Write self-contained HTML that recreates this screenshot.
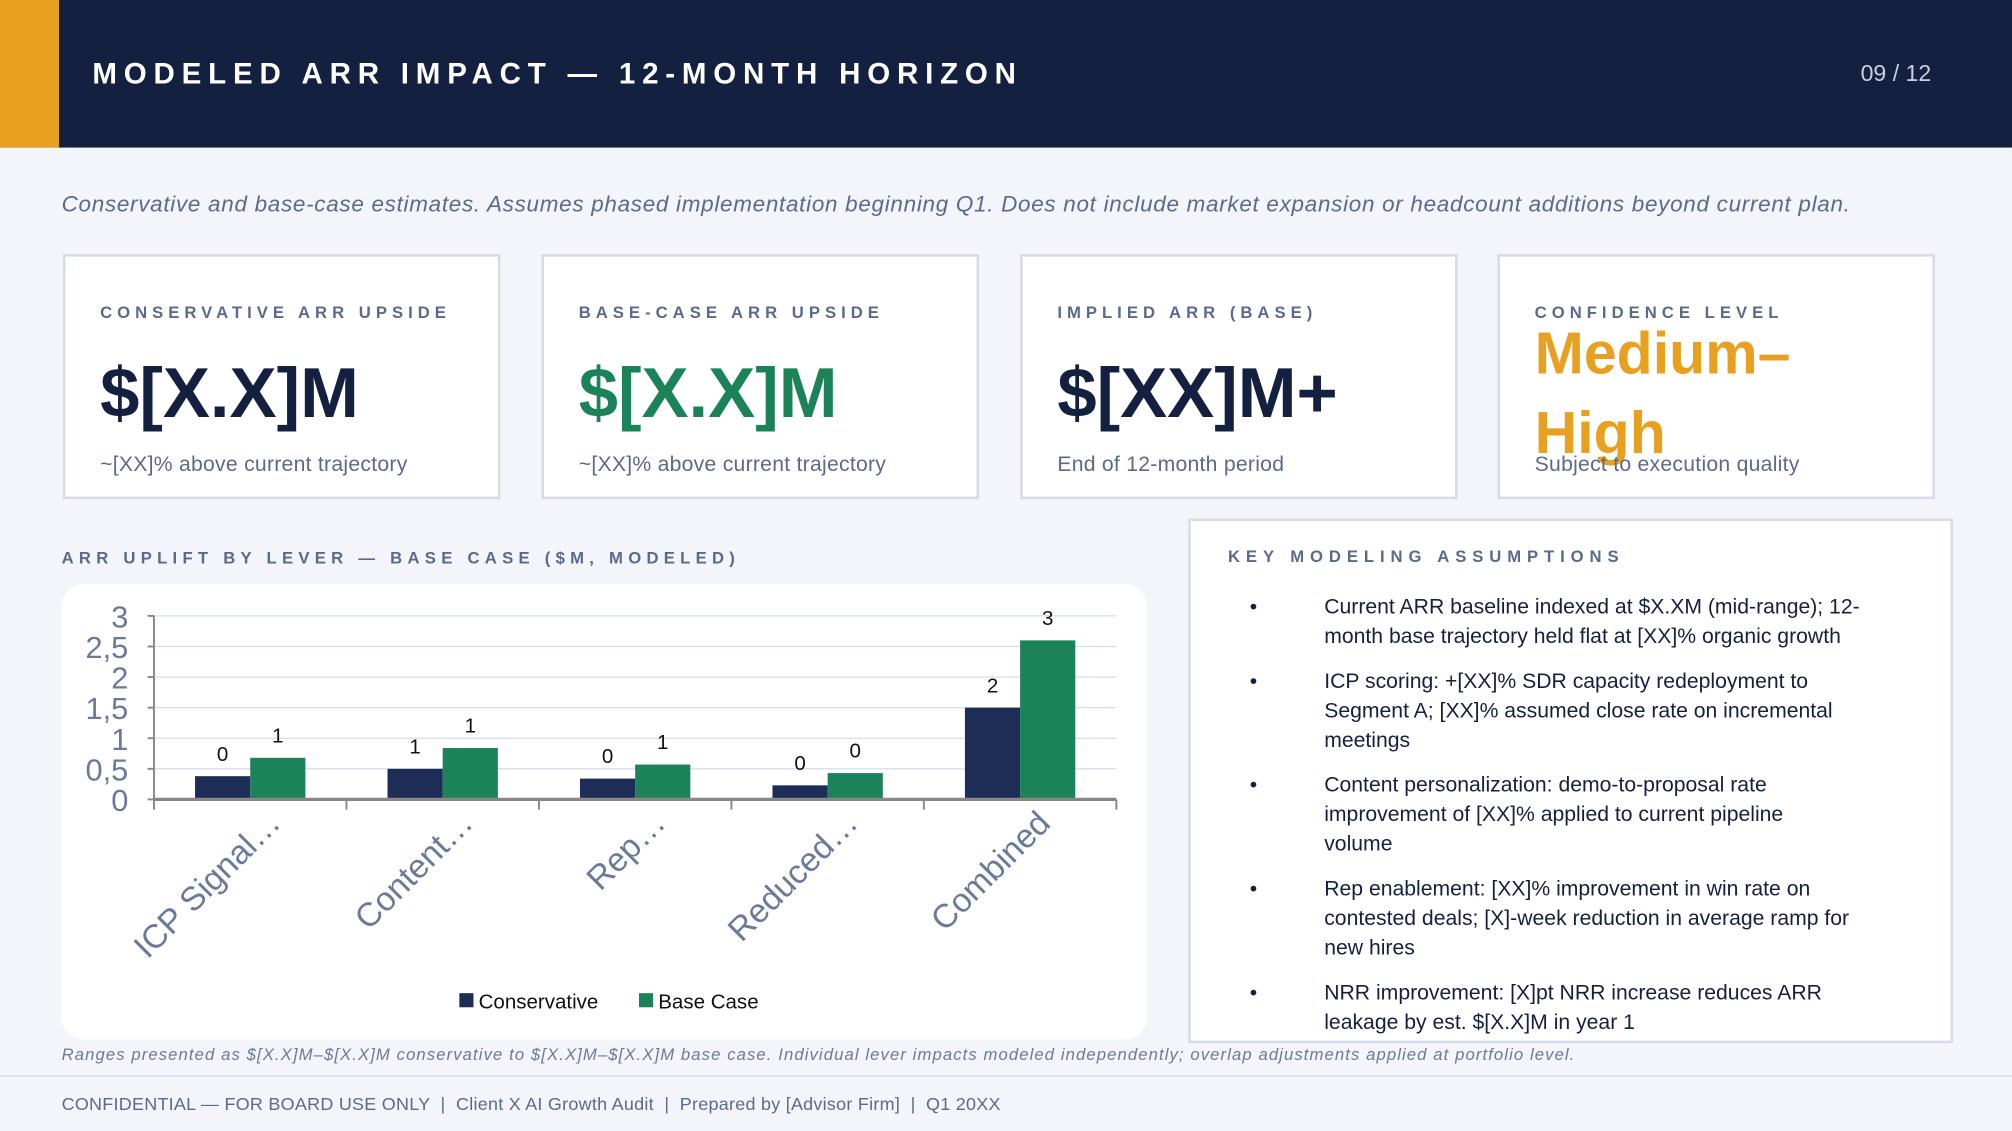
<!DOCTYPE html>
<html><head><meta charset="utf-8"><style>
*{margin:0;padding:0;box-sizing:border-box}
body{width:2012px;height:1131px;overflow:hidden;background:#f3f5fa;font-family:"Liberation Sans",sans-serif}
#w{width:1568px;height:881px;position:relative;transform:scale(1.28316);transform-origin:0 0;background:#f3f5fa}
.a{position:absolute;white-space:nowrap}
.card{position:absolute;top:198px;width:341px;height:191px;background:#fff;border:2px solid #d5dbe9}
.lab{position:absolute;left:27px;top:36px;font-size:13px;font-weight:bold;letter-spacing:3.9px;color:#5a6a8a;white-space:nowrap}
.big{position:absolute;left:27px;top:74px;font-size:55px;font-weight:bold;color:#13203f;white-space:nowrap}
.sub{position:absolute;left:27px;top:153px;font-size:16.5px;color:#5a6a8a;white-space:nowrap;letter-spacing:0.2px}
li{list-style:none;position:relative;padding-left:74px;font-size:16.5px;line-height:23px;color:#13203f;margin-bottom:12px;width:530px;white-space:normal}
li:before{content:"•";position:absolute;left:16px;top:0}
</style></head><body>
<div id="w">
<div class="a" style="left:0;top:0;width:1568px;height:115px;background:#13203f"></div>
<div class="a" style="left:0;top:0;width:46px;height:115px;background:#e8a020"></div>
<div class="a" style="left:72px;top:44px;font-size:23px;font-weight:bold;letter-spacing:5.3px;color:#fff">MODELED ARR IMPACT — 12-MONTH HORIZON</div>
<div class="a" style="left:1450px;top:47px;font-size:18px;color:#c8d0e0">09 / 12</div>
<div class="a" style="left:48px;top:149px;font-size:17.5px;font-style:italic;color:#5a6a8a;letter-spacing:0.55px">Conservative and base-case estimates. Assumes phased implementation beginning Q1. Does not include market expansion or headcount additions beyond current plan.</div>

<div class="card" style="left:49px"><div class="lab">CONSERVATIVE ARR UPSIDE</div><div class="big">$[X.X]M</div><div class="sub">~[XX]% above current trajectory</div></div>
<div class="card" style="left:422px"><div class="lab">BASE-CASE ARR UPSIDE</div><div class="big" style="color:#1c8259">$[X.X]M</div><div class="sub">~[XX]% above current trajectory</div></div>
<div class="card" style="left:795px"><div class="lab">IMPLIED ARR (BASE)</div><div class="big">$[XX]M+</div><div class="sub">End of 12-month period</div></div>
<div class="card" style="left:1167px"><div class="lab">CONFIDENCE LEVEL</div><div class="big" style="color:#e8a020;font-size:46px;top:44px;line-height:62px;white-space:normal;width:300px">Medium–<br>High</div><div class="sub">Subject to execution quality</div></div>

<div class="a" style="left:48px;top:427px;font-size:13px;font-weight:bold;letter-spacing:4.1px;color:#5a6a8a">ARR UPLIFT BY LEVER — BASE CASE ($M, MODELED)</div>
<div class="a" style="left:48px;top:455px;width:846px;height:355px;background:#fff;border-radius:18px"></div>
<svg class="a" id="chart" style="left:0;top:0" width="1568" height="881"></svg>

<div class="a" style="left:926px;top:404px;width:596px;height:409px;background:#fff;border:2px solid #d5dbe9;overflow:hidden">
<div class="a" style="left:29px;top:20px;font-size:13px;font-weight:bold;letter-spacing:4.6px;color:#5a6a8a">KEY MODELING ASSUMPTIONS</div>
<ul style="position:absolute;left:30px;top:56px">
<li style="width:528px">Current ARR baseline indexed at $X.XM (mid-range); 12-month base trajectory held flat at [XX]% organic growth</li>
<li style="width:505px">ICP scoring: +[XX]% SDR capacity redeployment to Segment A; [XX]% assumed close rate on incremental meetings</li>
<li style="width:474px">Content personalization: demo-to-proposal rate improvement of [XX]% applied to current pipeline volume</li>
<li style="width:505px">Rep enablement: [XX]% improvement in win rate on contested deals; [X]-week reduction in average ramp for new hires</li>
<li style="width:505px">NRR improvement: [X]pt NRR increase reduces ARR leakage by est. $[X.X]M in year 1</li>
</ul></div>

<div class="a" style="left:48px;top:814px;font-size:13px;font-style:italic;color:#6b7a99;letter-spacing:0.85px">Ranges presented as $[X.X]M–$[X.X]M conservative to $[X.X]M–$[X.X]M base case. Individual lever impacts modeled independently; overlap adjustments applied at portfolio level.</div>
<div class="a" style="left:0;top:838px;width:1568px;height:1px;background:#d5dbe9"></div>
<div class="a" style="left:48px;top:852px;font-size:14px;color:#5a6a8a;letter-spacing:0.2px">CONFIDENTIAL — FOR BOARD USE ONLY &nbsp;| &nbsp;Client X AI Growth Audit &nbsp;| &nbsp;Prepared by [Advisor Firm] &nbsp;| &nbsp;Q1 20XX</div>
</div>
<script>
const categories=["ICP Signal…","Content…","Rep…","Reduced…","Combined"];
const conservative=[0.38,0.5,0.34,0.23,1.5];
const baseCase=[0.68,0.84,0.57,0.43,2.6];
const yTicks=[0,0.5,1,1.5,2,2.5,3];
const yTickLabels=["0","0,5","1","1,5","2","2,5","3"];
const NS="http://www.w3.org/2000/svg";
const svg=document.getElementById('chart');
const X0=120,X1=870,Y0=623,Y1=480,YMAX=3;
const y=v=>Y0-(v/YMAX)*(Y0-Y1);
const bw=(X1-X0)/categories.length;
const cx=i=>X0+bw*(i+0.5);
function el(t,a){const e=document.createElementNS(NS,t);for(const k in a)e.setAttribute(k,a[k]);svg.appendChild(e);return e;}
yTicks.forEach((t,i)=>{
 if(t>0){const g=el('line',{x1:X0,x2:X1,y1:y(t),y2:y(t),stroke:'#d8dcec','stroke-width':1});
 
 }
 const tk=el('line',{x1:X0-5,x2:X0,y1:y(t),y2:y(t),stroke:'#888','stroke-width':1.5});
 
 
 const tx=el('text',{x:X0-20,y:y(t)+9,'text-anchor':'end','font-size':24,fill:'#6b7a99','font-family':'Liberation Sans Narrow, Liberation Sans, sans-serif'});
 tx.textContent=yTickLabels[i];
 
 
});
const ya=el('line',{x1:X0,x2:X0,y1:Y1,y2:Y0,stroke:'#888','stroke-width':1.5});


categories.forEach((c,i)=>{
 const w=43,c0=cx(i);
 [[conservative,'#1d2d55',c0-w],[baseCase,'#1c8259',c0]].forEach(([arr,col,x],s)=>{
  const v=arr[i];
  const r=el('rect',{x:x,y:y(v),width:w,height:Y0-y(v),fill:col});
  
  
  const t=el('text',{x:x+w/2,y:y(v)-12,'text-anchor':'middle','font-size':16,fill:'#111'});
  t.textContent=Math.round(v);
  
  
 });
 const tk=el('line',{x1:X0+bw*(i+1),x2:X0+bw*(i+1),y1:Y0,y2:Y0+8,stroke:'#888','stroke-width':1.5});
 
 
 const lt=el('text',{x:c0+25,y:Y0+20,'text-anchor':'end','font-size':26,fill:'#6b7a99',transform:`rotate(-45 ${c0+25} ${Y0+20})`});
 lt.textContent=c;
 
 
});
const t0=el('line',{x1:X0,x2:X0,y1:Y0,y2:Y0+8,stroke:'#888','stroke-width':1.5});


const xa=el('line',{x1:X0,x2:X1,y1:Y0,y2:Y0,stroke:'#888','stroke-width':2.5});


[['Conservative','#1d2d55',358],['Base Case','#1c8259',498]].forEach(([n,c,x])=>{
 const r=el('rect',{x:x,y:774,width:11,height:11,fill:c});
 
 
 const t=el('text',{x:x+15,y:786,'font-size':16,fill:'#111'});
 t.textContent=n;
 
 
});
</script>
</body></html>
